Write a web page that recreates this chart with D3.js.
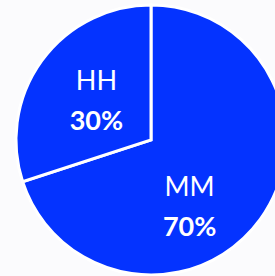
<!DOCTYPE html>
<html>
<head>
<meta charset="utf-8">
<script src="https://cdn.jsdelivr.net/npm/d3@7"></script>
<style>
    html, body { margin: 0; padding: 0; background: #fbfbfd; }
    svg { display: block; }
</style>
</head>
<body>
<div id="chart"></div>
<script>
let labels = ["MM", "HH"]
let values = [70, 30]
let colors = ["#0433ff", "#0433ff"]

let width = 275
let height = 276
let cx = 151
let cy = 140
let radius = 135

// label nudges so MM stays in the visible part
let nudge = {"MM": [-16, 26], "HH": [0, 0]}

let data = labels.map((l, i) => ({label: l, value: values[i], color: colors[i]}))

var svg = d3.select("#chart")
    .append("svg")
        .attr("width", width)
        .attr("height", height)
    .append("g")
        .attr("transform", "translate(" + cx + "," + cy + ")")

let pie = d3.pie()
    .value(d => d.value)
    .sort(null)

let arc = d3.arc()
    .innerRadius(0)
    .outerRadius(radius)

let labelArc = d3.arc()
    .innerRadius(radius * 0.5)
    .outerRadius(radius * 0.5)

let arcs = pie(data)

svg.selectAll("path")
    .data(arcs)
    .enter()
    .append("path")
        .attr("d", arc)
        .attr("fill", d => d.data.color)
        .attr("stroke", "#ffffff")
        .attr("stroke-width", 3)
        .attr("stroke-linejoin", "miter")

let lbl = svg.selectAll("g.lbl")
    .data(arcs)
    .enter()
    .append("g")
        .attr("class", "lbl")
        .attr("transform", d => {
            let c = labelArc.centroid(d)
            let n = nudge[d.data.label]
            return "translate(" + (c[0] + n[0]) + "," + (c[1] + n[1]) + ")"
        })

lbl.append("text")
    .attr("y", -10)
    .attr("text-anchor", "middle")
    .style("font-family", "Lato, 'Noto Sans', sans-serif")
    .style("font-size", "27px")
    .style("fill", "#ffffff")
    .text(d => d.data.label)

lbl.append("text")
    .attr("y", 30)
    .attr("text-anchor", "middle")
    .style("font-family", "Lato, 'Noto Sans', sans-serif")
    .style("font-size", "27px")
    .style("font-weight", "bold")
    .style("fill", "#ffffff")
    .text(d => d.data.value + "%")
</script>
</body>
</html>
